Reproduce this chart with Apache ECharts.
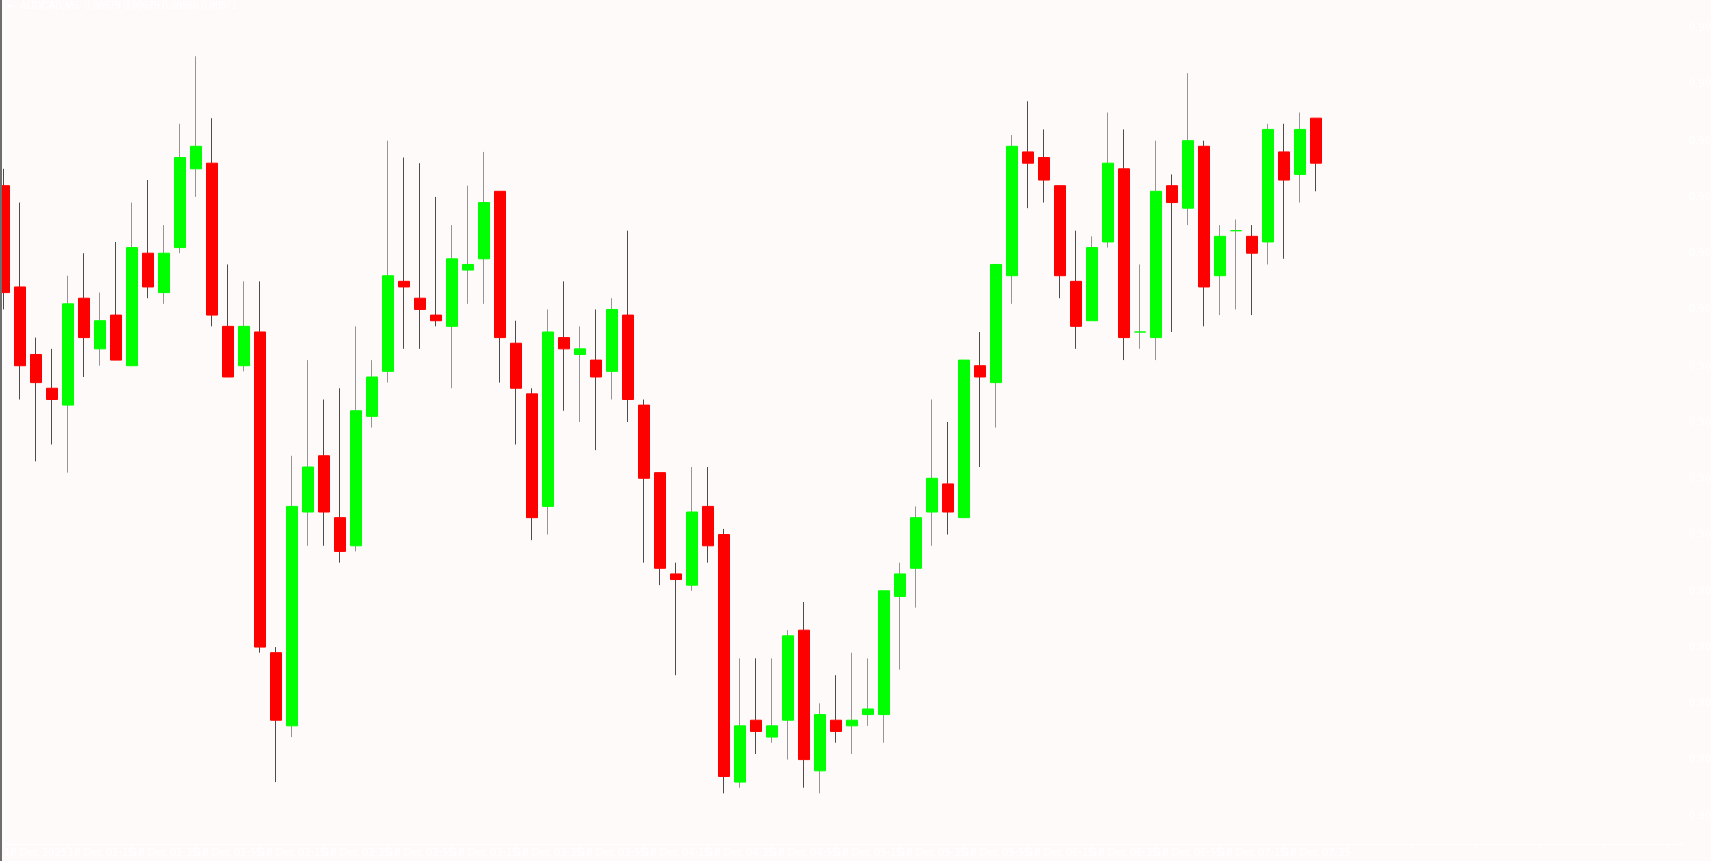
<!DOCTYPE html>
<html>
<head>
<meta charset="utf-8">
<script src="https://cdn.jsdelivr.net/npm/echarts@6/dist/echarts.min.js"></script>
<style>
html,body{margin:0;padding:0;background:#fffafa;}
#chart{width:1711px;height:861px;}
</style>
</head>
<body>
<div id="chart"></div>
<script>
const symbolName = 'AUDCAD,M5';
const openP  = [0.90967,0.90949,0.90937,0.90931,0.90928,0.90947,0.90938,0.90944,0.90935,0.90955,
                0.90948,0.90956,0.90970,0.90971,0.90942,0.90935,0.90941,0.90884,0.90871,0.90909,
                0.90919,0.90908,0.90903,0.90926,0.90934,0.90950,0.90947,0.90944,0.90942,0.90952,
                0.90954,0.90966,0.90939,0.90930,0.90910,0.90940,0.90937,0.90936,0.90934,0.90944,
                0.90928,0.90916,0.90898,0.90896,0.90910,0.90905,0.90861,0.90872,0.90869,0.90872,
                0.90888,0.90863,0.90872,0.90871,0.90873,0.90873,0.90894,0.90899,0.90909,0.90914,
                0.90908,0.90935,0.90932,0.90951,0.90973,0.90972,0.90967,0.90950,0.90943,0.90957,
                0.90970,0.90941,0.90940,0.90967,0.90963,0.90974,0.90951,0.90959,0.90958,0.90957,
                0.90973,0.90969,0.90979];
const highP  = [0.90970,0.90964,0.90940,0.90938,0.90951,0.90955,0.90948,0.90957,0.90964,0.90968,
                0.90960,0.90978,0.90990,0.90979,0.90953,0.90950,0.90950,0.90885,0.90919,0.90936,
                0.90929,0.90931,0.90942,0.90936,0.90975,0.90972,0.90971,0.90965,0.90960,0.90967,
                0.90973,0.90966,0.90943,0.90931,0.90945,0.90950,0.90942,0.90945,0.90947,0.90959,
                0.90929,0.90916,0.90900,0.90917,0.90917,0.90906,0.90883,0.90883,0.90883,0.90888,
                0.90893,0.90875,0.90880,0.90884,0.90883,0.90895,0.90900,0.90910,0.90929,0.90925,
                0.90936,0.90941,0.90953,0.90976,0.90982,0.90977,0.90967,0.90959,0.90958,0.90980,
                0.90977,0.90953,0.90975,0.90969,0.90987,0.90975,0.90960,0.90961,0.90960,0.90978,
                0.90978,0.90980,0.90979];
const lowP   = [0.90945,0.90929,0.90918,0.90921,0.90916,0.90933,0.90935,0.90936,0.90935,0.90947,
                0.90946,0.90955,0.90965,0.90942,0.90933,0.90934,0.90884,0.90861,0.90869,0.90903,
                0.90903,0.90900,0.90902,0.90924,0.90932,0.90938,0.90938,0.90942,0.90931,0.90946,
                0.90946,0.90932,0.90921,0.90904,0.90905,0.90927,0.90925,0.90920,0.90929,0.90925,
                0.90900,0.90896,0.90880,0.90895,0.90900,0.90859,0.90860,0.90866,0.90868,0.90865,
                0.90860,0.90859,0.90868,0.90866,0.90871,0.90868,0.90881,0.90892,0.90903,0.90905,
                0.90908,0.90917,0.90924,0.90946,0.90963,0.90964,0.90947,0.90938,0.90943,0.90956,
                0.90936,0.90938,0.90936,0.90941,0.90960,0.90942,0.90944,0.90945,0.90944,0.90953,
                0.90954,0.90964,0.90966];
const closeP = [0.90948,0.90935,0.90932,0.90929,0.90946,0.90940,0.90943,0.90936,0.90956,0.90949,
                0.90955,0.90972,0.90974,0.90944,0.90933,0.90942,0.90885,0.90872,0.90910,0.90917,
                0.90909,0.90902,0.90927,0.90933,0.90951,0.90949,0.90945,0.90943,0.90954,0.90953,
                0.90964,0.90940,0.90931,0.90908,0.90941,0.90938,0.90938,0.90933,0.90945,0.90929,
                0.90915,0.90899,0.90897,0.90909,0.90903,0.90862,0.90871,0.90870,0.90871,0.90887,
                0.90865,0.90873,0.90870,0.90872,0.90874,0.90895,0.90898,0.90908,0.90915,0.90909,
                0.90936,0.90933,0.90953,0.90974,0.90971,0.90968,0.90951,0.90942,0.90956,0.90971,
                0.90940,0.90941,0.90966,0.90964,0.90975,0.90949,0.90958,0.90959,0.90955,0.90977,
                0.90968,0.90977,0.90971];
// time labels every 4 bars (bar 0 = 18 Dec 00:55)
const timeTickLabels = ['18 Dec 2025','18 Dec 01:15','18 Dec 01:35','18 Dec 01:55','18 Dec 02:15',
  '18 Dec 02:35','18 Dec 02:55','18 Dec 03:15','18 Dec 03:35','18 Dec 03:55','18 Dec 04:15',
  '18 Dec 04:35','18 Dec 04:55','18 Dec 05:15','18 Dec 05:35','18 Dec 05:55','18 Dec 06:15',
  '18 Dec 06:35','18 Dec 06:55','18 Dec 07:15','18 Dec 07:35'];
const yMin = 0.9085, yMax = 0.9100;

const candles = openP.map((o, i) => [i, o, closeP[i], lowP[i], highP[i]]);
const last = openP.length - 1;
const headerText = symbolName + '  ' + openP[last].toFixed(5) + ' ' + highP[last].toFixed(5) + ' ' +
                   lowP[last].toFixed(5) + ' ' + closeP[last].toFixed(5);

const chart = echarts.init(document.getElementById('chart'), null, {renderer: 'canvas'});
const axisFont = {color: '#ffffff', fontSize: 11, fontFamily: 'DejaVu Sans Condensed, Liberation Sans, sans-serif'};
chart.setOption({
  backgroundColor: '#fffafa',
  animation: false,
  grid: {left: 4, right: 28, top: 0, bottom: 17, containLabel: false, outerBoundsMode: 'none'},
  xAxis: {
    type: 'value', min: 0, max: 104.94, interval: 4,
    axisLine: {show: true, lineStyle: {color: '#ffffff', width: 1}},
    axisTick: {show: true, length: 4, lineStyle: {color: '#ffffff'}},
    splitLine: {show: false},
    axisLabel: Object.assign({
      align: 'left', margin: 4, showMaxLabel: false, hideOverlap: false,
      formatter: function (v) {
        const i = Math.round(v);
        if (Math.abs(v - i) > 1e-6 || i % 4 !== 0) return '';
        return timeTickLabels[i / 4] || '';
      }
    }, axisFont)
  },
  yAxis: {
    type: 'value', position: 'right', min: yMin, max: yMax, interval: 0.00005, scale: true,
    axisLine: {show: true, lineStyle: {color: '#ffffff', width: 1}},
    axisTick: {show: false},
    splitLine: {show: false},
    axisLabel: Object.assign({
      margin: 6, showMinLabel: true, showMaxLabel: true,
      formatter: function (v) {
        const p = Math.round(v * 1e5);
        return (p % 10 === 5) ? (p / 1e5).toFixed(5) : '';
      }
    }, axisFont)
  },
  graphic: [
    {type: 'rect', shape: {x: 0, y: 0, width: 2, height: 861}, style: {fill: '#6e6e6e'}, z: 100},
    {type: 'polygon', shape: {points: [[7, 5], [13, 5], [10, 8]]}, style: {fill: '#ffffff'}, z: 100},
    {type: 'text', left: 20, top: 1, style: {text: headerText, fill: '#ffffff', fontSize: 10,
      fontFamily: 'Liberation Sans, sans-serif'}, z: 100}
  ],
  series: [{
    type: 'candlestick',
    data: candles,
    barWidth: 11,
    clip: true,
    itemStyle: {
      color: '#00ff00', borderColor: '#00ff00',
      color0: '#ff0000', borderColor0: '#ff0000',
      borderWidth: 1
    },
    markLine: {
      silent: true, symbol: 'none', animation: false,
      lineStyle: {opacity: 0},
      label: {
        show: true, position: 'end', distance: 2,
        formatter: function (p) { return Number(p.value).toFixed(5); },
        backgroundColor: '#ffffff', color: '#fdf7f6', padding: [1, 4, 1, 4],
        fontSize: 11, fontFamily: 'DejaVu Sans Condensed, sans-serif'
      },
      data: [{yAxis: closeP[last]}]
    }
  }]
});
</script>
</body>
</html>
